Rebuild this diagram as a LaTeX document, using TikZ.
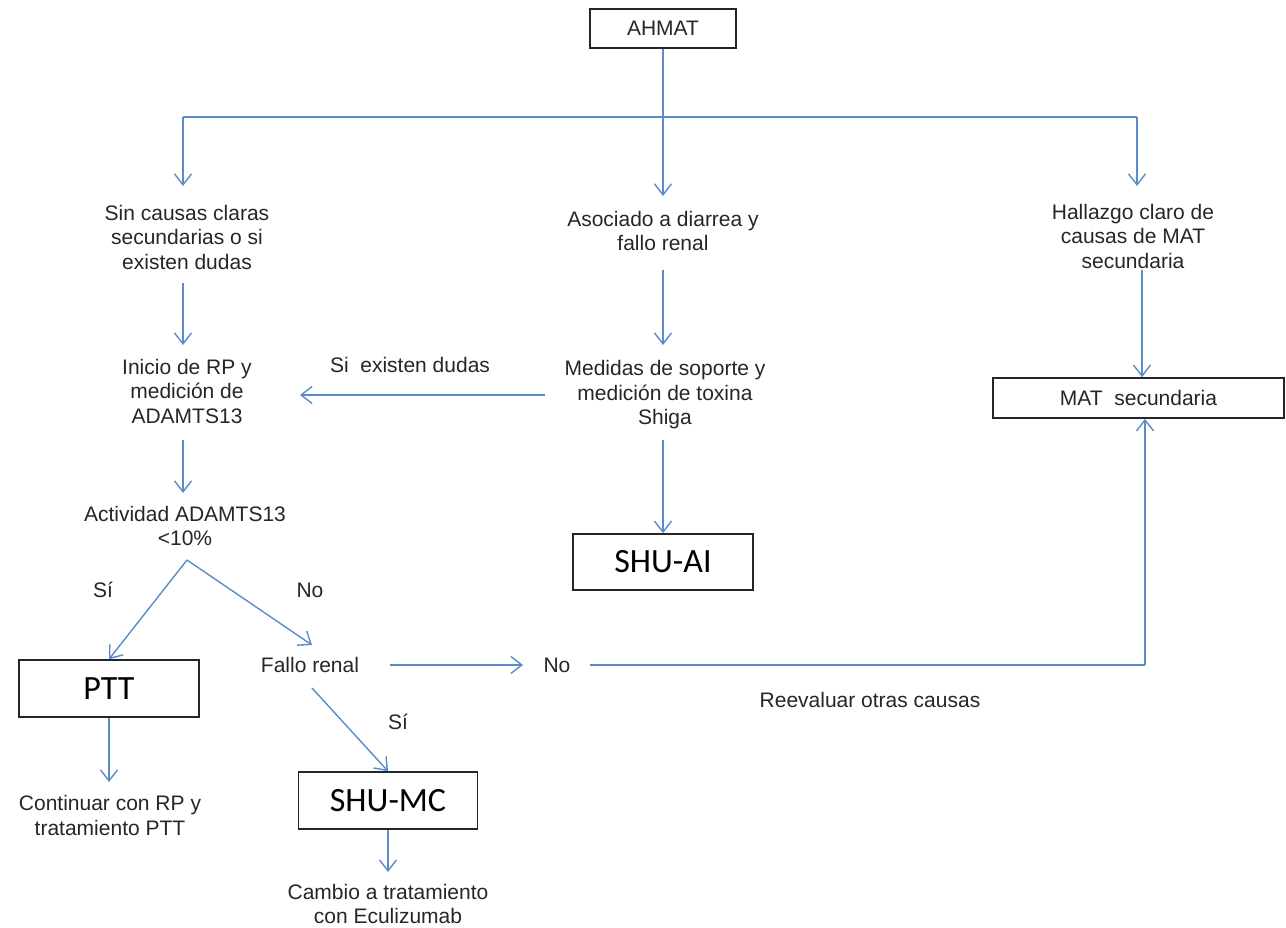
\documentclass[tikz,border=0pt]{standalone}
\usepackage{fontspec}
\setmainfont{Liberation Sans}
\newfontfamily\calib{Carlito}
\usetikzlibrary{arrows.meta}
\definecolor{linkblue}{HTML}{5B8BC9}
\definecolor{ink}{HTML}{262626}
\begin{document}
\begin{tikzpicture}[x=1pt,y=-1pt,
  txt/.style={align=center,text=ink,font=\fontsize{21}{24.5}\selectfont,inner sep=0pt},
  box/.style={draw=ink,line width=1.6pt,fill=white,inner sep=0pt},
  bigbox/.style={box,font=\calib\fontsize{34}{40}\selectfont,text=black},
  arrowline/.style={draw=linkblue,line width=1.4pt,-{Straight Barb[length=11pt,width=17pt,line width=1.4pt]}},
  plainline/.style={draw=linkblue,line width=1.4pt}]
\useasboundingbox (0,0) rectangle (1286,928);

% boxes
\node[box,txt,draw=ink,minimum width=146pt,minimum height=39pt] (ahmat) at (663,28.5) {AHMAT};
\node[box,txt,draw=ink,minimum width=291pt,minimum height=40pt] (matsec) at (1138.5,398) {MAT\ \ secundaria};
\node[bigbox,minimum width=180pt,minimum height=56pt] (shuai) at (663,562) {SHU-AI};
\node[bigbox,minimum width=180pt,minimum height=57pt] (ptt) at (109,688.5) {PTT};
\node[bigbox,minimum width=179pt,minimum height=57pt] (shumc) at (388,800.5) {SHU-MC};

% text steps
\node[txt] (sincausas) at (187,237) {Sin causas claras\\secundarias o si\\existen dudas};
\node[txt] (diarrea) at (663,231) {Asociado a diarrea y\\fallo renal};
\node[txt] (hallazgo) at (1133,236) {Hallazgo claro de\\causas de MAT\\secundaria};
\node[txt] (inicio) at (187,391) {Inicio de RP y\\medición de\\ADAMTS13};
\node[txt] (medidas) at (665,395) {Medidas\ de soporte y\\medición de toxina\\Shiga};
\node[txt] (actividad) at (185,526) {Actividad ADAMTS13\\<10\%};
\node[txt] (fallo) at (310,665) {Fallo renal};
\node[txt] (nofallo) at (557,665) {No};
\node[txt] (continuar) at (110,815.5) {Continuar con RP y\\tratamiento PTT};
\node[txt] (cambio) at (388,904) {Cambio a tratamiento\\con Eculizumab};

% edge labels
\node[txt] (lbldudas) at (410,365) {Si\ \ existen dudas};
\node[txt] (lblsi1) at (103,590) {Sí};
\node[txt] (lblno1) at (310,590) {No};
\node[txt] (lblsi2) at (398,722) {Sí};
\node[txt] (lblreeval) at (870,700) {Reevaluar otras causas};

% junction points
\coordinate (bus) at (663,117);
\coordinate (busL) at (183,117);
\coordinate (busR) at (1137,117);
\coordinate (split) at (187,560);
\coordinate (corner) at (1145,665);

% top distribution
\draw[plainline] (ahmat.south) -- (bus);
\draw[arrowline] (bus) -- (663,196);
\draw[plainline] (busL) -- (busR);
\draw[arrowline] (busL) -- (183,186);
\draw[arrowline] (busR) -- (1137,186);

% left column
\draw[arrowline] (183,283) -- (183,345);
\draw[arrowline] (183,440) -- (183,493);
\draw[arrowline] (split) -- (312,645);
\draw[arrowline] (split) -- (ptt.north);
\draw[arrowline] (ptt.south) -- (109,782);

% centre column
\draw[arrowline] (663,270) -- (663,345);
\draw[arrowline] (545,395) -- (300,395);
\draw[arrowline] (663,440) -- (shuai.north);

% right column
\draw[arrowline] (1142,270) -- (matsec.north -| 1142,0);

% renal failure branch
\draw[arrowline] (390,665) -- (523,665);
\draw[plainline] (590,665) -- (corner);
\draw[arrowline] (corner) -- (matsec.south -| corner);
\draw[arrowline] (312,688) -- (shumc.north);
\draw[arrowline] (shumc.south) -- (388,872);
\end{tikzpicture}
\end{document}
